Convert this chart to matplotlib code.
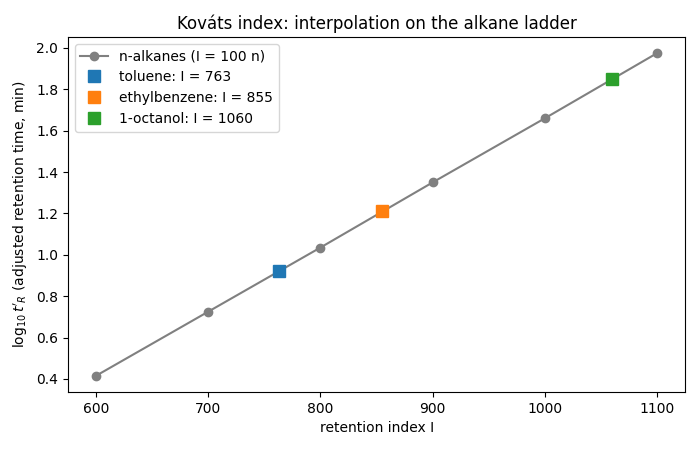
import matplotlib
matplotlib.use("Agg")
import matplotlib.pyplot as plt

alkane_I = [600, 700, 800, 900, 1000, 1100]
alkane_logt = [0.415, 0.725, 1.035, 1.35, 1.66, 1.975]

compounds = ["toluene", "ethylbenzene", "1-octanol"]
compound_I = [763, 855, 1060]
compound_logt = [0.922, 1.21, 1.85]
colors = ["#1f77b4", "#ff7f0e", "#2ca02c"]

fig, ax = plt.subplots(figsize=(7, 4.5), dpi=100)
ax.plot(alkane_I, alkane_logt, "-o", color="gray", label="n-alkanes (I = 100 n)")
for name, I, y, c in zip(compounds, compound_I, compound_logt, colors):
    ax.plot([I], [y], "s", color=c, markersize=9, label=f"{name}: I = {I}")
ax.set_xlabel("retention index I")
ax.set_ylabel(r"$\log_{10} t'_R$ (adjusted retention time, min)")
ax.set_title("Kováts index: interpolation on the alkane ladder")
ax.legend(loc="upper left")
fig.subplots_adjust(left=0.097, right=0.979, top=0.918, bottom=0.129)
fig.savefig("out.png")
